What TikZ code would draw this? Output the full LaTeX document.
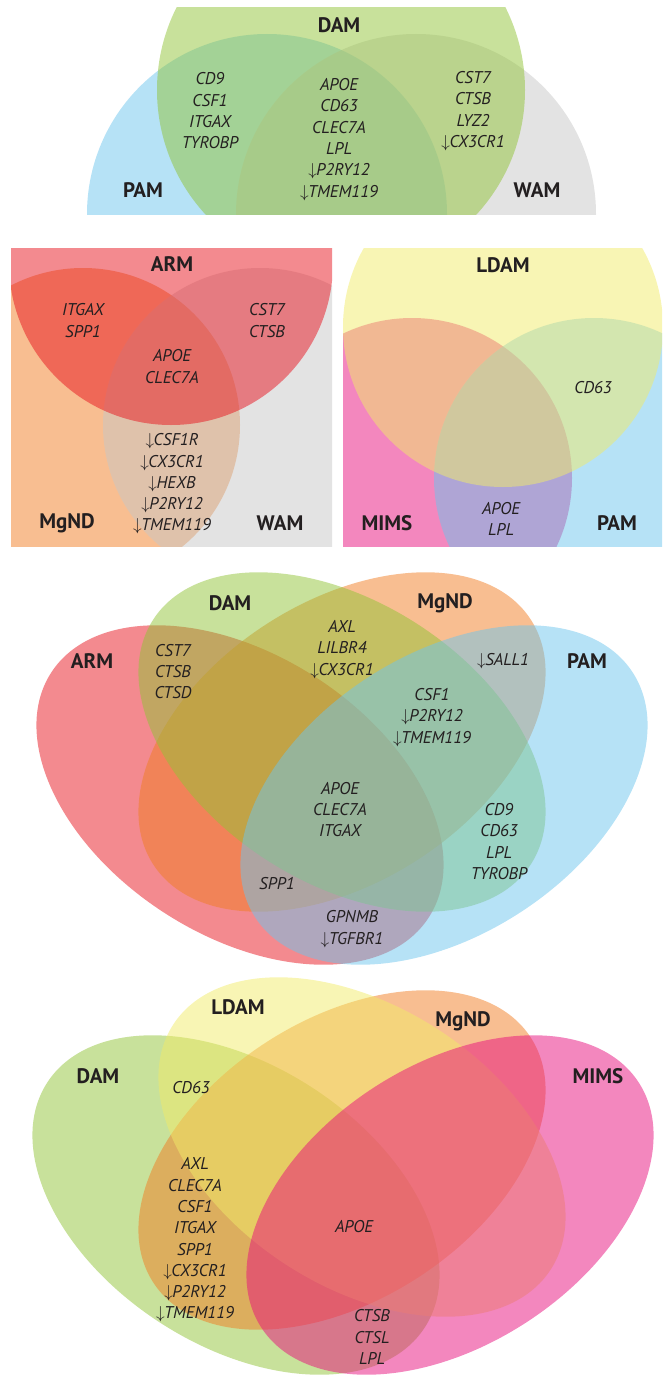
\documentclass[tikz,border=0pt]{standalone}
\usepackage{fontspec}
\setmainfont{PT Sans}
\definecolor{damc}{RGB}{145,195,55}
\definecolor{pamc}{RGB}{109,197,237}
\definecolor{wamc}{RGB}{199,199,199}
\definecolor{armc}{RGB}{231,21,31}
\definecolor{mgndc}{RGB}{241,125,35}
\definecolor{ldamc}{RGB}{241,235,105}
\definecolor{mimsc}{RGB}{231,15,125}
\definecolor{ink}{RGB}{35,31,32}
\newcommand\dnarr{$\downarrow$\kern-0.5pt}

\begin{document}
\begin{tikzpicture}[x=1pt,y=-1pt,
  blob/.style={fill=#1,fill opacity=0.5},
  egg/.style={x radius=225,y radius=140},
  lab/.style={font=\bfseries\fontsize{21}{24}\selectfont,text=ink,inner sep=0},
  gene/.style={font=\itshape\fontsize{17}{21.3}\selectfont,text=ink,align=center,inner sep=0}]
\useasboundingbox (0,0) rectangle (667,1375);
% PAM / WAM / DAM half circles
\begin{scope}
\clip (0,8) rectangle (667,214);
\fill[blob=pamc] (267,214) circle [radius=180];
\fill[blob=wamc] (416,214) circle [radius=180];
\fill[blob=damc] (341,90) circle [radius=184];
\end{scope}
\node[lab] (dam1) at (339,25) {DAM};
\node[lab] (pam1) at (143,190) {PAM};
\node[lab] (wam1) at (537,190) {WAM};
\node[gene] (pamdam1) at (210,111) {CD9\\CSF1\\ITGAX\\TYROBP};
\node[gene] (core1) at (339,139.5) {APOE\\CD63\\CLEC7A\\LPL\\\dnarr P2RY12\\\dnarr TMEM119};
\node[gene] (damwam1) at (473,111) {CST7\\CTSB\\LYZ2\\\dnarr CX3CR1};

% ARM / MgND / WAM
\begin{scope}
\clip (11,248) rectangle (332,546);
\fill[blob=mgndc] (83,425) circle [radius=157];
\fill[blob=wamc] (260,425) circle [radius=157];
\fill[blob=armc] (171,263) circle [radius=162];
\end{scope}
\node[lab] (arm2) at (172,264) {ARM};
\node[lab] (mgnd2) at (67,523) {MgND};
\node[lab] (wam2) at (280,523) {WAM};
\node[gene] (armmgnd2) at (83,320.5) {ITGAX\\SPP1};
\node[gene] (armwam2) at (267,320.5) {CST7\\CTSB};
\node[gene] (core2) at (172,366.5) {APOE\\CLEC7A};
\node[gene] (mgndwam2) at (172,484) {\dnarr CSF1R\\\dnarr CX3CR1\\\dnarr HEXB\\\dnarr P2RY12\\\dnarr TMEM119};

% LDAM / MIMS / PAM
\begin{scope}
\clip (343,248) rectangle (662,546);
\fill[blob=mimsc] (412,478) circle [radius=160];
\fill[blob=pamc] (594,478) circle [radius=160];
\fill[blob=ldamc] (503,327) circle [radius=160];
\end{scope}
\node[lab] (ldam3) at (503,265) {LDAM};
\node[lab] (mims3) at (387,523) {MIMS};
\node[lab] (pam3) at (617,523) {PAM};
\node[gene] (ldampam3) at (593,388) {CD63};
\node[gene] (mimspam3) at (501,519) {APOE\\LPL};

% ARM / DAM / MgND / PAM
\fill[blob=armc,rotate around={-33:(240,795)}] (240,795) ellipse [egg];
\fill[blob=mgndc,rotate around={33:(342,742)}] (342,742) ellipse [egg];
\fill[blob=damc,rotate around={-33:(342,742)}] (342,742) ellipse [egg];
\fill[blob=pamc,rotate around={33:(444,795)}] (444,795) ellipse [egg];
\node[lab] (dam4) at (230,603) {DAM};
\node[lab] (arm4) at (92,661) {ARM};
\node[lab] (mgnd4) at (445,603) {MgND};
\node[lab] (pam4) at (587,661) {PAM};
\node[gene] (armdam4) at (173,671.5) {CST7\\CTSB\\CTSD};
\node[gene] (dammgnd4) at (342,649.5) {AXL\\LILBR4\\\dnarr CX3CR1};
\node[gene] (mgndpam4) at (503,661) {\dnarr SALL1};
\node[gene] (trio4) at (432,717.5) {CSF1\\\dnarr P2RY12\\\dnarr TMEM119};
\node[gene] (core4) at (340,809.5) {APOE\\CLEC7A\\ITGAX};
\node[gene] (dampam4) at (499,841.5) {CD9\\CD63\\LPL\\TYROBP};
\node[gene] (spp4) at (277,884) {SPP1};
\node[gene] (armpam4) at (352,929) {GPNMB\\\dnarr TGFBR1};

% DAM / LDAM / MgND / MIMS
\begin{scope}
\clip (0,960) rectangle (667,1375);
\fill[blob=damc,rotate around={-33:(236,1205)}] (236,1205) ellipse [egg];
\fill[blob=mgndc,rotate around={33:(342,1160)}] (342,1160) ellipse [egg];
\fill[blob=ldamc,rotate around={-33:(362,1147)}] (362,1147) ellipse [egg];
\fill[blob=mimsc,rotate around={33:(450,1205)}] (450,1205) ellipse [egg];
\end{scope}
\node[lab] (ldam5) at (238,1007) {LDAM};
\node[lab] (dam5) at (98,1076) {DAM};
\node[lab] (mgnd5) at (463,1021) {MgND};
\node[lab] (mims5) at (598,1076) {MIMS};
\node[gene] (damldam5) at (191,1088) {CD63};
\node[gene] (dammgnd5) at (195,1240) {AXL\\CLEC7A\\CSF1\\ITGAX\\SPP1\\\dnarr CX3CR1\\\dnarr P2RY12\\\dnarr TMEM119};
\node[gene] (core5) at (354,1227) {APOE};
\node[gene] (dammims5) at (372,1337) {CTSB\\CTSL\\LPL};
\end{tikzpicture}
\end{document}
